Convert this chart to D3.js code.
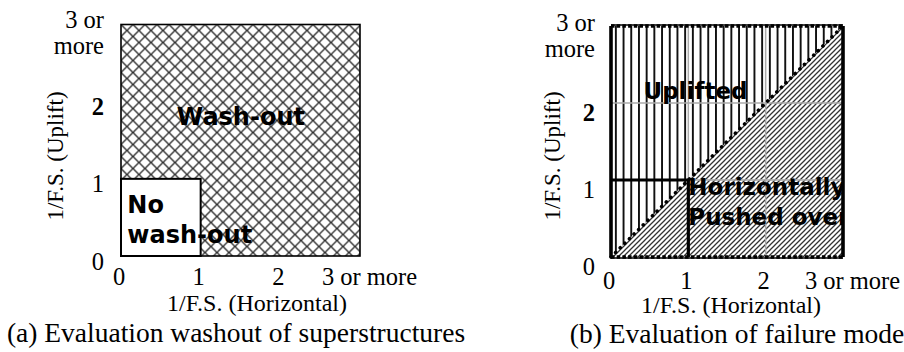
<!DOCTYPE html>
<html>
<head>
<meta charset="utf-8">
<script src="https://cdn.jsdelivr.net/npm/d3@7"></script>
<style>
body { margin: 0; background: #fff; }
</style>
</head>
<body>
<svg id="chart" width="904" height="352"></svg>
<script>
"use strict";

// ticks, same on both panels (3 means "3 or more")
const tickValues = [0, 1, 2, 3];
const xTickLabels = ["0", "1", "2", "3 or more"];
const yTickLabels = ["0", "1", "2", "3 or|more"];
const xTitle = "1/F.S. (Horizontal)";
const yTitle = "1/F.S. (Uplift)";

// panel (a) zones
const washoutLabels = ["Wash-out", "No|wash-out"];
const noWashoutLimit = [1, 1];          // [horizontal, uplift]

// panel (b) zones
const failureLabels = ["Uplifted", "Horizontally|Pushed over"];
const upliftedZone = [[0, 0], [0, 3], [3, 3]];
const pushedZone = [[0, 0], [3, 0], [3, 3]];
const boundaryLine = [[0, 0], [3, 3]];
const stableLimit = [1, 1];

const gridValues = [1, 2];
const captions = ["(a) Evaluation washout of superstructures", "(b) Evaluation of failure mode"];

const serif = "'Liberation Serif', 'Times New Roman', serif";
const sans = "'DejaVu Sans', Verdana, sans-serif";

const svg = d3.select("#chart");
const defs = svg.append("defs");

// hatch patterns
defs.append("pattern")
  .attr("id", "cross").attr("patternUnits", "userSpaceOnUse")
  .attr("width", 12).attr("height", 12)
  .attr("patternTransform", "translate(121,24.5)")
  .append("path")
  .attr("d", "M-3,-3L15,15M15,-3L-3,15")
  .attr("stroke", "#333").attr("stroke-width", 1.4).attr("fill", "none");

defs.append("pattern")
  .attr("id", "vert").attr("patternUnits", "userSpaceOnUse")
  .attr("width", 7.7).attr("height", 10)
  .attr("patternTransform", "translate(612,0)")
  .append("path")
  .attr("d", "M3.85,-1V11")
  .attr("stroke", "#000").attr("stroke-width", 1.8);

defs.append("pattern")
  .attr("id", "diag").attr("patternUnits", "userSpaceOnUse")
  .attr("width", 5).attr("height", 5)
  .append("path")
  .attr("d", "M-1,6L6,-1M-1,1L1,-1M4,6L6,4")
  .attr("stroke", "#333").attr("stroke-width", 1.3);

const panels = [
  { x: [121, 360], y: [256, 24.5], xPad: 12, yPad: 17, yShift: 13, topShift: 2.5, xTitleX: 257, xTitleY: 311, yTitleX: 63, capY: 342, capX: 236, zoneSize: 24 },
  { x: [611, 843], y: [257, 26], xPad: 15, yPad: 16, yShift: 17, topShift: 4, xTitleX: 731, xTitleY: 313, yTitleX: 560, capY: 343, capX: 737, zoneSize: 23 }
];

panels.forEach(function(p, k) {
  p.xs = d3.scaleLinear().domain([0, 3]).range(p.x);
  p.ys = d3.scaleLinear().domain([0, 3]).range(p.y);
  let clipId = "clip" + k;
  defs.append("clipPath").attr("id", clipId)
    .append("rect")
    .attr("x", p.x[0]).attr("y", p.y[1])
    .attr("width", p.x[1] - p.x[0]).attr("height", p.y[0] - p.y[1]);
  p.clip = "url(#" + clipId + ")";
  p.g = svg.append("g");
});

function drawAxes(p) {
  let xAxis = d3.axisBottom(p.xs).tickValues(tickValues)
    .tickFormat(function(d, i) { return xTickLabels[i]; })
    .tickSize(0).tickPadding(p.xPad);
  let gx = p.g.append("g").attr("transform", "translate(0," + p.y[0] + ")").call(xAxis);
  gx.select(".domain").remove();
  gx.selectAll("text")
    .attr("font-family", serif).attr("font-size", 24.5).attr("fill", "#000")
    .attr("dx", function(d) { return d === 3 ? 9 : -2.5; });

  let yAxis = d3.axisLeft(p.ys).tickValues(tickValues)
    .tickFormat(function(d, i) { return yTickLabels[i]; })
    .tickSize(0).tickPadding(p.yPad);
  let gy = p.g.append("g").attr("transform", "translate(" + p.x[0] + ",0)").call(yAxis);
  gy.select(".domain").remove();
  gy.selectAll("text")
    .attr("font-family", serif).attr("font-size", 24.5).attr("fill", "#000")
    .attr("font-weight", function(d) { return d === 2 ? "bold" : "normal"; })
    .attr("dy", p.yShift)
    .each(function(d, i) {
      let lines = yTickLabels[i].split("|");
      if (lines.length < 2) return;
      let t = d3.select(this).text("").attr("dy", null);
      lines.forEach(function(line, j) {
        t.append("tspan").attr("x", -p.yPad)
          .attr("dy", j === 0 ? p.topShift : 26).text(line);
      });
    });

  p.g.append("text")
    .attr("x", p.xTitleX)
    .attr("y", p.xTitleY)
    .attr("text-anchor", "middle")
    .attr("font-family", serif).attr("font-size", 24)
    .text(xTitle);

  p.g.append("text")
    .attr("transform", "translate(" + p.yTitleX + ",156) rotate(-90)")
    .attr("text-anchor", "middle")
    .attr("font-family", serif).attr("font-size", 23)
    .text(yTitle);
}

function zoneText(p, str, x, y) {
  let t = p.g.append("text")
    .attr("font-family", sans).attr("font-weight", "bold")
    .attr("font-size", p.zoneSize).attr("fill", "#000")
    .attr("clip-path", p.clip);
  str.split("|").forEach(function(line, j) {
    t.append("tspan").attr("x", x).attr("y", y + j * 30).text(line);
  });
}

// ----- panel (a)
(function() {
  let p = panels[0], g = p.g, xs = p.xs, ys = p.ys;
  g.append("rect")
    .attr("x", xs(0)).attr("y", ys(3))
    .attr("width", xs(3) - xs(0)).attr("height", ys(0) - ys(3))
    .attr("fill", "url(#cross)");
  g.append("rect")
    .attr("x", xs(0)).attr("y", ys(noWashoutLimit[1]))
    .attr("width", xs(noWashoutLimit[0]) - xs(0))
    .attr("height", ys(0) - ys(noWashoutLimit[1]))
    .attr("fill", "#fff").attr("stroke", "#000").attr("stroke-width", 2);
  zoneText(p, washoutLabels[0], xs(0.7), ys(1.7));
  zoneText(p, washoutLabels[1], xs(0.08), ys(0.56));
  g.append("rect")
    .attr("x", xs(0)).attr("y", ys(3))
    .attr("width", xs(3) - xs(0)).attr("height", ys(0) - ys(3))
    .attr("fill", "none").attr("stroke", "#000").attr("stroke-width", 1.6);
  drawAxes(p);
  svg.append("text")
    .attr("x", p.capX).attr("y", p.capY).attr("text-anchor", "middle")
    .attr("font-family", serif).attr("font-size", 27.5)
    .text(captions[0]);
})();

// ----- panel (b)
(function() {
  let p = panels[1], g = p.g, xs = p.xs, ys = p.ys;
  let line = d3.line().x(function(d) { return xs(d[0]); }).y(function(d) { return ys(d[1]); });
  g.append("path").attr("d", line(upliftedZone) + "Z").attr("fill", "url(#vert)");
  g.append("path").attr("d", line(pushedZone) + "Z").attr("fill", "url(#diag)");

  gridValues.forEach(function(v) {
    g.append("line").attr("x1", xs(v)).attr("x2", xs(v)).attr("y1", ys(0)).attr("y2", ys(3))
      .attr("stroke", "#aaa").attr("stroke-width", 1.5);
    g.append("line").attr("x1", xs(0)).attr("x2", xs(3)).attr("y1", ys(v)).attr("y2", ys(v))
      .attr("stroke", "#aaa").attr("stroke-width", 1.5);
  });

  g.append("path").attr("d", line(boundaryLine))
    .attr("fill", "none").attr("stroke", "#000").attr("stroke-width", 3.6)
    .attr("stroke-linecap", "round").attr("stroke-dasharray", "0.1,6.4");

  g.append("path")
    .attr("d", line([[0, stableLimit[1]], stableLimit, [stableLimit[0], 0]]))
    .attr("fill", "none").attr("stroke", "#000").attr("stroke-width", 3.2);

  zoneText(p, failureLabels[0], xs(0.42), ys(2.05));
  zoneText(p, failureLabels[1], xs(1), ys(0.8));

  // box: solid sides, dashed top and bottom
  g.append("path").attr("d", line([[0, 0], [0, 3]]) + line([[3, 0], [3, 3]]))
    .attr("stroke", "#000").attr("stroke-width", 3.6).attr("fill", "none");
  [0, 3].forEach(function(v) {
    g.append("path").attr("d", line([[0, v], [3, v]]))
      .attr("stroke", "#000").attr("stroke-width", 1.6).attr("fill", "none")
      .attr("transform", "translate(0," + (v === 0 ? 1 : -1) + ")");
    g.append("path").attr("d", line([[0, v], [3, v]]))
      .attr("stroke", "#000").attr("stroke-width", 3.6).attr("fill", "none")
      .attr("stroke-dasharray", "3.5,2.2");
  });

  drawAxes(p);
  svg.append("text")
    .attr("x", p.capX).attr("y", p.capY).attr("text-anchor", "middle")
    .attr("font-family", serif).attr("font-size", 27.5)
    .text(captions[1]);
})();
</script>
</body>
</html>
